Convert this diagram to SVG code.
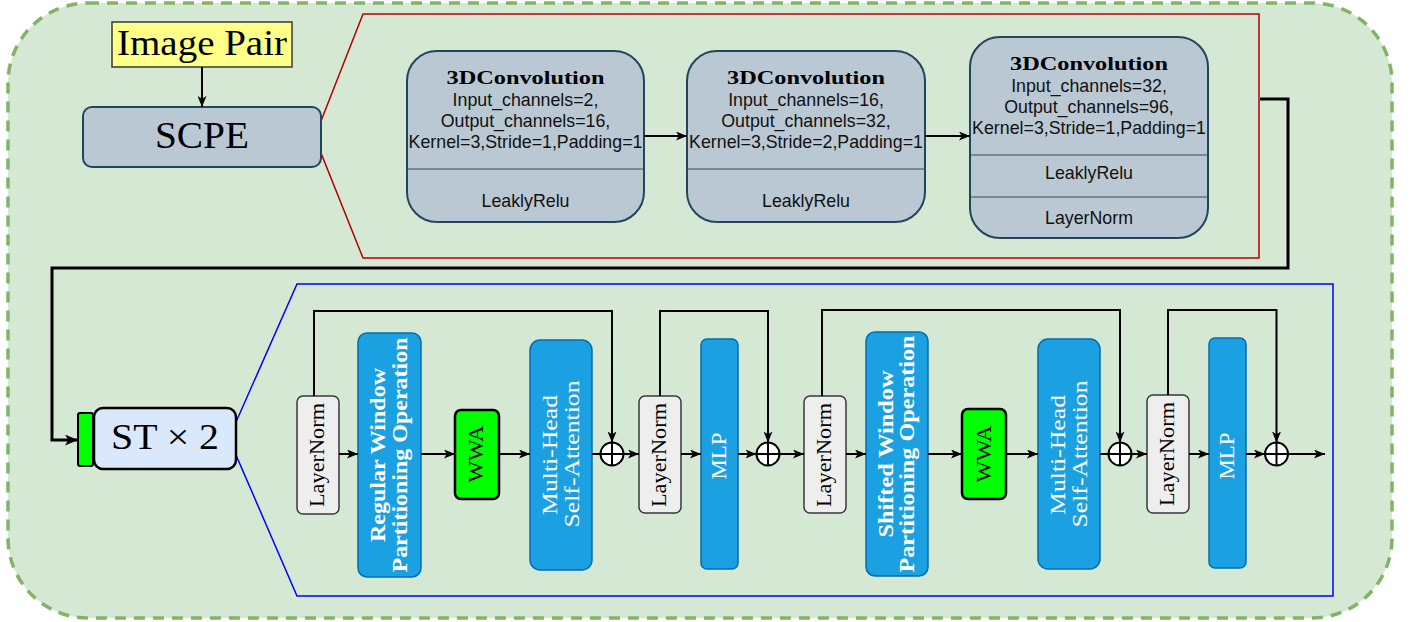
<svg xmlns="http://www.w3.org/2000/svg" width="1413" height="622" viewBox="0 0 1413 622">
  <defs>
    <marker id="arr" viewBox="0 0 11 9" refX="11" refY="4.5" markerWidth="11" markerHeight="9" markerUnits="userSpaceOnUse" orient="auto">
      <path d="M0,0 L11,4.5 L0,9 L2.8,4.5 z" fill="#000"/>
    </marker>
    <marker id="arrBig" viewBox="0 0 12 10" refX="12" refY="5" markerWidth="13" markerHeight="11" markerUnits="userSpaceOnUse" orient="auto">
      <path d="M0,0 L12,5 L0,10 L3,5 z" fill="#000"/>
    </marker>
    <style>
      .serif { font-family: "Liberation Serif", "DejaVu Serif", serif; }
      .conv { fill: #bac8d3; stroke: #23445d; stroke-width: 2; }
      .div { stroke: #3d4a55; stroke-width: 1; }
      .title { font-family: "Liberation Serif", serif; font-weight: bold; font-size: 19px; fill: #000; text-anchor: middle; }
      .param { font-family: "Liberation Sans", Arial, sans-serif; font-size: 17.8px; fill: #111; text-anchor: middle; }
      .ln { fill: #eeeeee; stroke: #36393d; stroke-width: 1.5; }
      .lnt { font-family: "Liberation Serif", serif; font-size: 20px; fill: #000; text-anchor: middle; }
      .blue { fill: #1ba1e2; stroke: #006eaf; stroke-width: 1.5; }
      .bt { font-family: "Liberation Serif", serif; font-size: 22px; fill: #fff; text-anchor: middle; }
      .wwa { fill: #00ff00; stroke: #000; stroke-width: 2.5; }
      .wt { font-family: "Liberation Serif", serif; font-size: 22px; fill: #000; text-anchor: middle; }
      .edge { fill: none; stroke: #000; stroke-width: 2; }
      .oplus circle { fill: #fff; stroke: #000; stroke-width: 2; }
      .oplus path { stroke: #000; stroke-width: 2; fill: none; }
    </style>
  </defs>

  <!-- outer container -->
  <rect id="container" x="8" y="3" width="1384" height="615" rx="80" ry="80" fill="#d5e8d4" stroke="#82b366" stroke-width="3.5" stroke-dasharray="11 8"/>

  <!-- SCPE detail frame -->
  <polygon id="scpe-detail" points="321,121 363,14 1259,14 1259,258 363,258 321,153" fill="none" stroke="#b20000" stroke-width="1.5"/>

  <!-- ST detail frame -->
  <polygon id="st-detail" points="236,422 297,284 1333,284 1333,596 297,596 236,455" fill="none" stroke="#0000ff" stroke-width="1.5"/>

  <g id="image-pair">
    <rect x="112" y="22" width="180" height="45" fill="#ffff88" stroke="#36393d" stroke-width="1.5"/>
    <text x="202" y="55" class="serif" font-size="35" text-anchor="middle" textLength="170" lengthAdjust="spacingAndGlyphs">Image Pair</text>
  </g>

  <g id="scpe">
    <rect x="83" y="107" width="238" height="60" rx="9" class="conv"/>
    <text x="202" y="148" class="serif" font-size="37" text-anchor="middle" textLength="94" lengthAdjust="spacingAndGlyphs">SCPE</text>
  </g>

  <g id="conv1">
    <rect x="407" y="51" width="237" height="171" rx="30" class="conv"/>
    <line x1="407" y1="169" x2="644" y2="169" class="div"/>
    <text x="525.5" y="84" class="title" textLength="158" lengthAdjust="spacingAndGlyphs">3DConvolution</text>
    <text x="525.5" y="106" class="param">Input_channels=2,</text>
    <text x="525.5" y="127" class="param">Output_channels=16,</text>
    <text x="525.5" y="148" class="param">Kernel=3,Stride=1,Padding=1</text>
    <text x="525.5" y="207" class="param">LeaklyRelu</text>
  </g>

  <g id="conv2">
    <rect x="687" y="51" width="238" height="171" rx="30" class="conv"/>
    <line x1="687" y1="169" x2="925" y2="169" class="div"/>
    <text x="806" y="84" class="title" textLength="158" lengthAdjust="spacingAndGlyphs">3DConvolution</text>
    <text x="806" y="106" class="param">Input_channels=16,</text>
    <text x="806" y="127" class="param">Output_channels=32,</text>
    <text x="806" y="148" class="param">Kernel=3,Stride=2,Padding=1</text>
    <text x="806" y="207" class="param">LeaklyRelu</text>
  </g>

  <g id="conv3">
    <rect x="970" y="37" width="238" height="201" rx="30" class="conv"/>
    <line x1="970" y1="155" x2="1208" y2="155" class="div"/>
    <line x1="970" y1="197" x2="1208" y2="197" class="div"/>
    <text x="1089" y="70" class="title" textLength="158" lengthAdjust="spacingAndGlyphs">3DConvolution</text>
    <text x="1089" y="92" class="param">Input_channels=32,</text>
    <text x="1089" y="113" class="param">Output_channels=96,</text>
    <text x="1089" y="134" class="param">Kernel=3,Stride=1,Padding=1</text>
    <text x="1089" y="179" class="param">LeaklyRelu</text>
    <text x="1089" y="224" class="param">LayerNorm</text>
  </g>

  <g id="st">
    <rect x="78" y="413" width="15" height="53" rx="2" fill="#00ff00" stroke="#000" stroke-width="2"/>
    <rect x="94" y="408" width="142" height="61" rx="9" fill="#dae8fc" stroke="#000" stroke-width="2.5"/>
    <text x="165" y="449" class="serif" font-size="36" text-anchor="middle" textLength="108" lengthAdjust="spacingAndGlyphs">ST × 2</text>
  </g>

  <!-- transformer block nodes -->
  <g id="ln1">
    <rect x="297" y="396" width="42" height="118" rx="6" class="ln"/>
    <text transform="translate(324,455) rotate(-90)" class="lnt" textLength="104" lengthAdjust="spacingAndGlyphs">LayerNorm</text>
  </g>
  <g id="rwpo">
    <rect x="358" y="333" width="63" height="244" rx="9" class="blue"/>
    <text transform="translate(385,455) rotate(-90)" class="bt" font-size="21" font-weight="bold" textLength="174" lengthAdjust="spacingAndGlyphs">Regular Window</text>
    <text transform="translate(407,455) rotate(-90)" class="bt" font-size="21" font-weight="bold" textLength="235" lengthAdjust="spacingAndGlyphs">Partitioning Operation</text>
  </g>
  <g id="wwa1">
    <rect x="455" y="410" width="44" height="89" rx="6" class="wwa"/>
    <text transform="translate(483,454) rotate(-90)" class="wt" textLength="57" lengthAdjust="spacingAndGlyphs">WWA</text>
  </g>
  <g id="mhsa1">
    <rect x="530" y="340" width="62" height="230" rx="10" class="blue"/>
    <text transform="translate(557,455) rotate(-90)" class="bt" font-size="23" textLength="120" lengthAdjust="spacingAndGlyphs">Multi-Head</text>
    <text transform="translate(579,454) rotate(-90)" class="bt" font-size="23" textLength="147" lengthAdjust="spacingAndGlyphs">Self-Attention</text>
  </g>
  <g id="oplus1" class="oplus">
    <circle cx="612" cy="454" r="11.5"/>
    <path d="M600.5 454 H623.5 M612 442.5 V465.5"/>
  </g>
  <g id="ln2">
    <rect x="639" y="396" width="42" height="117" rx="6" class="ln"/>
    <text transform="translate(666,455) rotate(-90)" class="lnt" textLength="104" lengthAdjust="spacingAndGlyphs">LayerNorm</text>
  </g>
  <g id="mlp1">
    <rect x="701" y="339" width="37" height="230" rx="6" class="blue"/>
    <text transform="translate(725.5,456) rotate(-90)" class="bt" font-size="20" textLength="47" lengthAdjust="spacingAndGlyphs">MLP</text>
  </g>
  <g id="oplus2" class="oplus">
    <circle cx="768" cy="454" r="11.5"/>
    <path d="M756.5 454 H779.5 M768 442.5 V465.5"/>
  </g>
  <g id="ln3">
    <rect x="804" y="396" width="42" height="117" rx="6" class="ln"/>
    <text transform="translate(831,455) rotate(-90)" class="lnt" textLength="104" lengthAdjust="spacingAndGlyphs">LayerNorm</text>
  </g>
  <g id="swpo">
    <rect x="866" y="332" width="62" height="244" rx="9" class="blue"/>
    <text transform="translate(893,454) rotate(-90)" class="bt" font-size="21" font-weight="bold" textLength="167" lengthAdjust="spacingAndGlyphs">Shifted Window</text>
    <text transform="translate(914,454) rotate(-90)" class="bt" font-size="21" font-weight="bold" textLength="237" lengthAdjust="spacingAndGlyphs">Partitioning Operation</text>
  </g>
  <g id="wwa2">
    <rect x="962" y="409" width="44" height="90" rx="6" class="wwa"/>
    <text transform="translate(991,454) rotate(-90)" class="wt" textLength="57" lengthAdjust="spacingAndGlyphs">WWA</text>
  </g>
  <g id="mhsa2">
    <rect x="1038" y="339" width="62" height="230" rx="10" class="blue"/>
    <text transform="translate(1065,455) rotate(-90)" class="bt" font-size="23" textLength="120" lengthAdjust="spacingAndGlyphs">Multi-Head</text>
    <text transform="translate(1087,454) rotate(-90)" class="bt" font-size="23" textLength="147" lengthAdjust="spacingAndGlyphs">Self-Attention</text>
  </g>
  <g id="oplus3" class="oplus">
    <circle cx="1120" cy="454" r="11.5"/>
    <path d="M1108.5 454 H1131.5 M1120 442.5 V465.5"/>
  </g>
  <g id="ln4">
    <rect x="1147" y="395" width="42" height="118" rx="6" class="ln"/>
    <text transform="translate(1174,454) rotate(-90)" class="lnt" textLength="104" lengthAdjust="spacingAndGlyphs">LayerNorm</text>
  </g>
  <g id="mlp2">
    <rect x="1209" y="338" width="37" height="230" rx="6" class="blue"/>
    <text transform="translate(1233.5,456) rotate(-90)" class="bt" font-size="20" textLength="47" lengthAdjust="spacingAndGlyphs">MLP</text>
  </g>
  <g id="oplus4" class="oplus">
    <circle cx="1276.5" cy="454" r="11.5"/>
    <path d="M1265 454 H1288 M1276.5 442.5 V465.5"/>
  </g>

  <g id="connectors">
    <path d="M202 67 V107" class="edge" marker-end="url(#arr)"/>
    <path d="M644 136 H687" class="edge" marker-end="url(#arr)"/>
    <path d="M925 136 H970" class="edge" marker-end="url(#arr)"/>
    <path d="M1260 99 H1288 V268 H52 V440 H78" fill="none" stroke="#000" stroke-width="3" marker-end="url(#arrBig)"/>

    <path d="M339 454 H358" class="edge" marker-end="url(#arr)"/>
    <path d="M421 454 H455" class="edge" marker-end="url(#arr)"/>
    <path d="M499 454 H530" class="edge" marker-end="url(#arr)"/>
    <path d="M592 454 H600.5" class="edge"/>
    <path d="M623.5 454 H639" class="edge" marker-end="url(#arr)"/>
    <path d="M681 454 H701" class="edge" marker-end="url(#arr)"/>
    <path d="M738 454 H756.5" class="edge" marker-end="url(#arr)"/>
    <path d="M779.5 454 H804" class="edge" marker-end="url(#arr)"/>
    <path d="M846 454 H866" class="edge" marker-end="url(#arr)"/>
    <path d="M928 454 H962" class="edge" marker-end="url(#arr)"/>
    <path d="M1006 454 H1038" class="edge" marker-end="url(#arr)"/>
    <path d="M1100 454 H1108.5" class="edge"/>
    <path d="M1131.5 454 H1147" class="edge" marker-end="url(#arr)"/>
    <path d="M1189 454 H1209" class="edge" marker-end="url(#arr)"/>
    <path d="M1246 454 H1265" class="edge" marker-end="url(#arr)"/>
    <path d="M1288 454 H1325" class="edge" marker-end="url(#arr)"/>

    <path d="M314 396 V311 H612 V442.5" class="edge" marker-end="url(#arr)"/>
    <path d="M660 396 V311 H768 V442.5" class="edge" marker-end="url(#arr)"/>
    <path d="M822 396 V310 H1120 V442.5" class="edge" marker-end="url(#arr)"/>
    <path d="M1168 395 V310 H1276.5 V442.5" class="edge" marker-end="url(#arr)"/>
  </g>
</svg>
